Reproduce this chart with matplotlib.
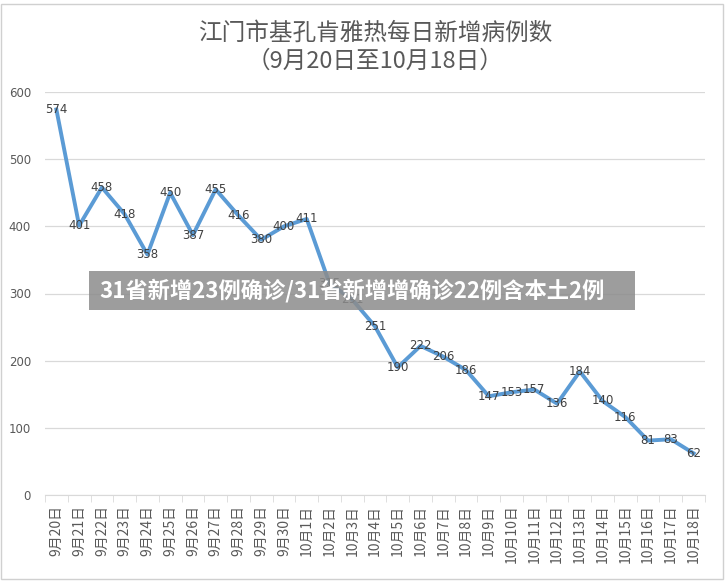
import matplotlib.pyplot as plt
from matplotlib.patches import Rectangle
from matplotlib.ticker import FixedLocator

plt.rcParams['font.family'] = ['Noto Sans CJK SC', 'DejaVu Sans']

# ---- data ----
dates = ['9月20日', '9月21日', '9月22日', '9月23日', '9月24日', '9月25日', '9月26日',
         '9月27日', '9月28日', '9月29日', '9月30日', '10月1日', '10月2日', '10月3日',
         '10月4日', '10月5日', '10月6日', '10月7日', '10月8日', '10月9日', '10月10日',
         '10月11日', '10月12日', '10月13日', '10月14日', '10月15日', '10月16日',
         '10月17日', '10月18日']
cases = [574, 401, 458, 418, 358, 450, 387, 455, 416, 380, 400, 411, 315, 291,
         251, 190, 222, 206, 186, 147, 153, 157, 136, 184, 140, 116, 81, 83, 62]
y_ticks = [0, 100, 200, 300, 400, 500, 600]

title = '江门市基孔肯雅热每日新增病例数\n（9月20日至10月18日）'
banner = '31省新增23例确诊/31省新增增确诊22例含本土2例'

W, H = 725, 582
fig = plt.figure(figsize=(W / 100, H / 100), dpi=100)
ax = fig.add_axes([45 / W, 1 - 495 / H, 660 / W, 403 / H])

x = list(range(len(dates)))
ax.plot(x, cases, color='#5b9bd5', linewidth=2.8, solid_joinstyle='round', zorder=3)
for xi, v in zip(x, cases):
    ax.text(xi, v, str(v), ha='center', va='center', fontsize=8.5,
            color='#404040', family='DejaVu Sans', zorder=4)

ax.set_xlim(-0.5, len(dates) - 0.5)
ax.set_ylim(0, 600)
ax.set_yticks(y_ticks)
ax.set_xticks(x)
ax.set_xticklabels(dates, rotation=90, fontsize=10, color='#595959')
ax.xaxis.set_minor_locator(FixedLocator([i - 0.5 for i in range(len(dates) + 1)]))
ax.tick_params(axis='x', which='major', length=0, pad=7)
ax.tick_params(axis='x', which='minor', length=5, color='#d9d9d9')
ax.tick_params(axis='y', length=0, pad=10, labelsize=8.5, labelcolor='#595959')
for lab in ax.get_yticklabels():
    lab.set_family('DejaVu Sans')

ax.grid(axis='y', color='#d9d9d9', linewidth=0.9, zorder=0)
for s in ['top', 'right', 'left']:
    ax.spines[s].set_visible(False)
ax.spines['bottom'].set_color('#d9d9d9')

fig.text(375 / W, 1 - 47 / H, title, ha='center', va='center', fontsize=17,
         color='#595959', linespacing=1.25)

# outer frame
fig.add_artist(Rectangle((1 / W, 3 / H), 722 / W, 575 / H, transform=fig.transFigure,
                         fill=False, edgecolor='#d0d0d0', linewidth=1))

# overlay banner
fig.add_artist(Rectangle((89 / W, 1 - 310 / H), 546 / W, 39 / H, transform=fig.transFigure,
                         facecolor='#8c8c8c', alpha=0.85, edgecolor='none', zorder=5))
fig.text(99 / W, 1 - 291 / H, banner, ha='left', va='center', fontsize=16,
         fontweight='bold', color='white', zorder=6)

fig.savefig('out.png', dpi=100)
